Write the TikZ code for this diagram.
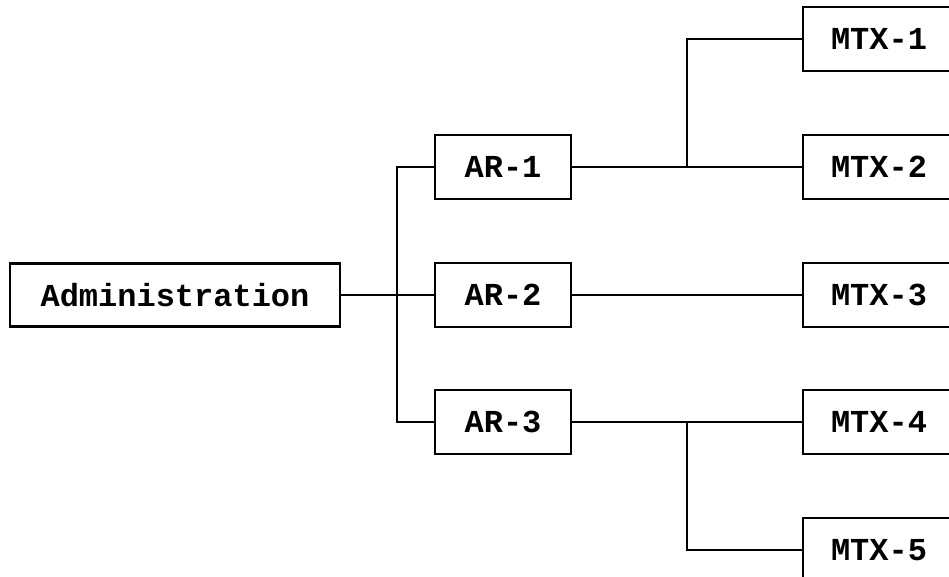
\documentclass[tikz,border=0pt]{standalone}
\usepackage{fontspec}
\setmonofont{Liberation Mono}
\usetikzlibrary{calc, positioning}

\begin{document}
\begin{tikzpicture}[x=0.75pt, y=-0.75pt, line width=2pt,
  box/.style={draw, line width=2pt, inner sep=0pt, minimum height=48pt,
    font=\ttfamily\bfseries\fontsize{24}{28}\selectfont}]
  \useasboundingbox (0,0) rectangle (949,577);
  \clip (0,0) rectangle (949,577);

  % Head office
  \node[box, minimum width=247.5pt, minimum height=47.25pt] (admin) at (175,295) {Administration};

  % AR units
  \foreach \i/\y in {1/167, 2/295, 3/422}
    \node[box, minimum width=102pt] (ar\i) at (503,\y) {AR-\i};

  % MTX units (running off the right edge)
  \foreach \i/\y in {1/39, 2/167, 3/295, 4/422, 5/550}
    \node[box, minimum width=114pt] (mtx\i) at (879,\y) {MTX-\i};

  % Bus to the AR units
  \coordinate (bus) at (397,295);
  \draw (admin.east) -- (ar2.west);
  \draw (ar1.west) -| (bus) |- (ar3.west);

  % AR units to MTX units
  \coordinate (j1) at ($(ar1.east)!0.5!(mtx2.west)$);
  \coordinate (j2) at ($(ar3.east)!0.5!(mtx4.west)$);
  \draw (ar1.east) -- (mtx2.west);
  \draw (j1) |- (mtx1.west);
  \draw (ar2.east) -- (mtx3.west);
  \draw (ar3.east) -- (mtx4.west);
  \draw (j2) |- (mtx5.west);
\end{tikzpicture}
\end{document}
